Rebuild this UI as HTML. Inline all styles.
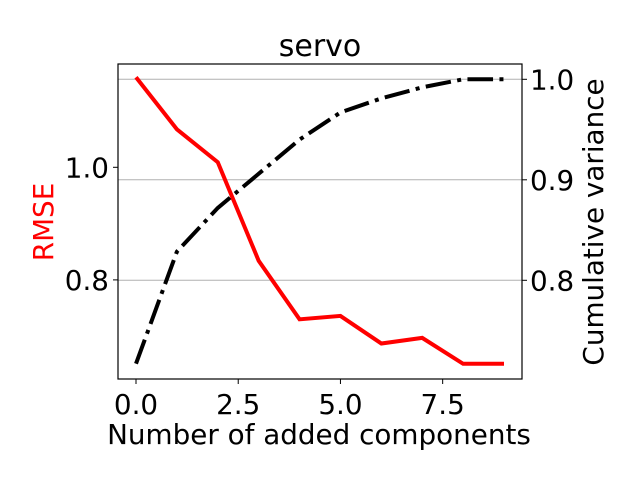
<!DOCTYPE html>
<html><head><meta charset="utf-8"><style>
html,body{margin:0;padding:0;background:#fff;}
svg text{font-family:"DejaVu Sans","Liberation Sans",sans-serif;}
</style></head><body>
<svg id="chart" width="640" height="480" viewBox="0 0 640 480" xmlns="http://www.w3.org/2000/svg">
<rect x="0" y="0" width="640" height="480" fill="#fff"/>
<g id="grid"></g>
<g id="lines"></g>
<rect x="118" y="64" width="404" height="315" fill="none" stroke="#000" stroke-width="1.2"/>
<g id="ticks"></g>
<text x="320" y="56" font-size="30" text-anchor="middle">servo</text>
<text x="319" y="444" font-size="27.8" text-anchor="middle">Number of added components</text>
<text transform="translate(53,222) rotate(-90)" font-size="27.8" fill="#ff0000" text-anchor="middle">RMSE</text>
<text transform="translate(603,222) rotate(-90)" font-size="27.8" text-anchor="middle">Cumulative variance</text>
</svg>
<script>
const components = [0,1,2,3,4,5,6,7,8,9];
const rmse = [1.160,1.0675,1.009,0.834,0.730,0.736,0.687,0.697,0.651,0.651];
const cumVariance = [0.717,0.8285,0.872,0.906,0.940,0.967,0.981,0.992,1.0,1.0];
const xTicks = [0,2.5,5,7.5];
const xTickLabels = ["0.0","2.5","5.0","7.5"];
const leftTicks = [0.8,1.0];
const leftTickLabels = ["0.8","1.0"];
const rightTicks = [0.8,0.9,1.0];
const rightTickLabels = ["0.8","0.9","1.0"];

const NS="http://www.w3.org/2000/svg";
const xS = v => 136 + v*(504-136)/9;
const yL = v => 167.3 - (v-1.0)*563;
const yR = v => 79.3 - (v-1.0)*1005;
function mk(tag, attrs, parent){const e=document.createElementNS(NS,tag);for(const k in attrs)e.setAttribute(k,attrs[k]);document.getElementById(parent).appendChild(e);return e;}

rightTicks.forEach((t,i)=>{
  const g=mk('line',{x1:118,x2:522,y1:yR(t),y2:yR(t),stroke:'#b0b0b0','stroke-width':1},'grid');
  
  
  const tk=mk('line',{x1:522,x2:527,y1:yR(t),y2:yR(t),stroke:'#000','stroke-width':1},'ticks');
  
  
  const tx=mk('text',{x:530,y:yR(t)+10,'font-size':27.8},'ticks');
  tx.textContent=rightTickLabels[i];
  
  
});
leftTicks.forEach((t,i)=>{
  const tk=mk('line',{x1:113,x2:118,y1:yL(t),y2:yL(t),stroke:'#000','stroke-width':1},'ticks');
  
  
  const tx=mk('text',{x:109,y:yL(t)+10,'font-size':27.8,'text-anchor':'end'},'ticks');
  tx.textContent=leftTickLabels[i];
  
  
});
xTicks.forEach((t,i)=>{
  const tk=mk('line',{x1:xS(t),x2:xS(t),y1:379,y2:384,stroke:'#000','stroke-width':1},'ticks');
  
  
  const tx=mk('text',{x:xS(t),y:414,'font-size':27.8,'text-anchor':'middle'},'ticks');
  tx.textContent=xTickLabels[i];
  
  
});
const rp=mk('polyline',{points:components.map((c,i)=>xS(c)+','+yL(rmse[i])).join(' '),fill:'none',stroke:'#ff0000','stroke-width':4,'stroke-linejoin':'miter'},'lines');


const bp=mk('polyline',{points:components.map((c,i)=>xS(c)+','+yR(cumVariance[i])).join(' '),fill:'none',stroke:'#000','stroke-width':4,'stroke-dasharray':'25.6 6.4 4 6.4'},'lines');


</script>
</body></html>
